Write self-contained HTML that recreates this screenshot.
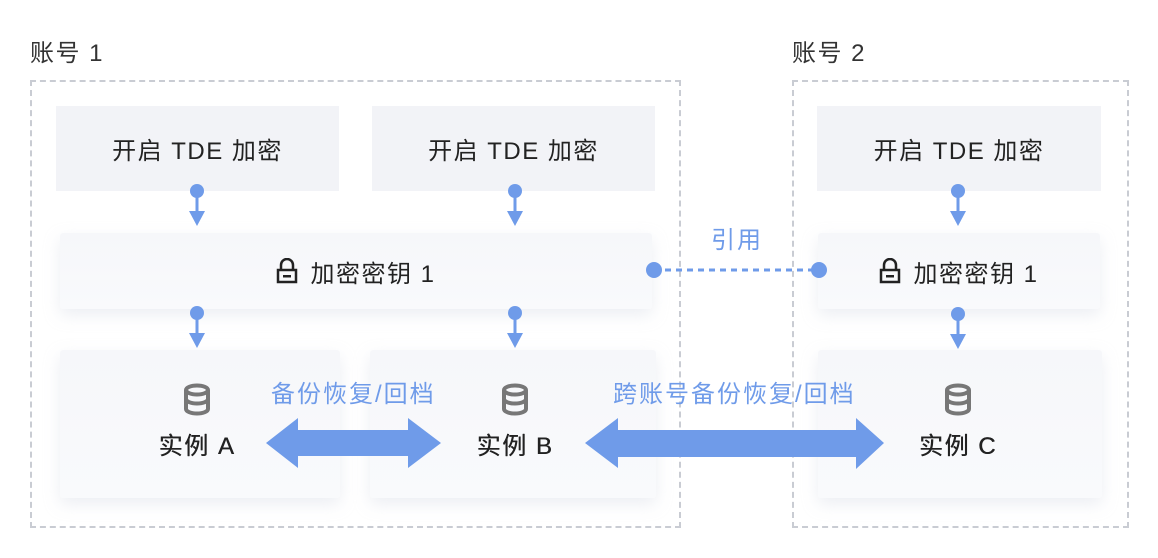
<!DOCTYPE html>
<html><head><meta charset="utf-8"><style>
body{margin:0;width:1158px;height:558px;background:#fff;position:relative;overflow:hidden;font-family:"Liberation Sans","Noto Sans CJK SC",sans-serif;}
.a{position:absolute;letter-spacing:1.5px;white-space:nowrap}
.lbl{font-size:24px;color:#333}
.top{background:#f2f3f7;display:flex;align-items:center;justify-content:center;font-size:24px;color:#222}
.card{background:linear-gradient(180deg,#f6f7fa,#f9fafc);box-shadow:0 6px 16px rgba(200,205,220,0.35);border-radius:3px}
.key{display:flex;align-items:center;justify-content:center;font-size:24px;color:#222}
.inst{font-size:24px;color:#222;text-align:center;text-shadow:0.4px 0 0 #222}
.blue{color:#6f9be9;font-size:24px;letter-spacing:2px}
</style></head><body>
<div class="a lbl" style="left:30px;top:33px">账号 1</div>
<div class="a lbl" style="left:792px;top:33px">账号 2</div>
<div class="a" style="left:30px;top:80px;width:647px;height:444px;border:2px dashed #c9ccd3"></div>
<div class="a" style="left:792px;top:80px;width:333px;height:444px;border:2px dashed #c9ccd3"></div>

<div class="a top" style="left:56px;top:106px;width:283px;height:85px">开启 TDE 加密</div>
<div class="a top" style="left:372px;top:106px;width:283px;height:85px">开启 TDE 加密</div>
<div class="a top" style="left:817px;top:106px;width:284px;height:85px">开启 TDE 加密</div>

<div class="a card key" style="left:60px;top:233px;width:592px;height:76px">
<svg width="22" height="26" viewBox="0 0 22 26" style="margin-right:12px"><path d="M5 12V7a6 6 0 0 1 12 0v5" fill="none" stroke="#222" stroke-width="2.5"/><rect x="2" y="12" width="18" height="12" fill="none" stroke="#222" stroke-width="2.5"/><rect x="7" y="17" width="8" height="2.5" fill="#222"/></svg>加密密钥 1</div>
<div class="a card key" style="left:818px;top:233px;width:282px;height:76px">
<svg width="22" height="26" viewBox="0 0 22 26" style="margin-right:12px"><path d="M5 12V7a6 6 0 0 1 12 0v5" fill="none" stroke="#222" stroke-width="2.5"/><rect x="2" y="12" width="18" height="12" fill="none" stroke="#222" stroke-width="2.5"/><rect x="7" y="17" width="8" height="2.5" fill="#222"/></svg>加密密钥 1</div>

<div class="a card" style="left:60px;top:350px;width:280px;height:148px"></div>
<div class="a card" style="left:370px;top:350px;width:286px;height:148px"></div>
<div class="a card" style="left:818px;top:350px;width:284px;height:148px"></div>

<svg class="a" style="left:0;top:0" width="1158" height="558">
<defs><g id="db"><ellipse cx="0" cy="-9" rx="11" ry="4.5" fill="none" stroke="#777" stroke-width="4"/><path d="M-11 -9V10a11 4.5 0 0 0 22 0V-9M-11 0a11 4.5 0 0 0 22 0" fill="none" stroke="#777" stroke-width="4"/></g>
<g id="cn"><circle cx="0" cy="0" r="7" fill="#6f9be9"/><line x1="0" y1="0" x2="0" y2="22" stroke="#6f9be9" stroke-width="3"/><path d="M-8 20H8L0 35Z" fill="#6f9be9"/></g></defs>
<use href="#db" x="197" y="399"/><use href="#db" x="515" y="399"/><use href="#db" x="958" y="399"/>
<use href="#cn" x="197" y="191"/><use href="#cn" x="515" y="191"/><use href="#cn" x="958" y="191"/>
<use href="#cn" x="197" y="313"/><use href="#cn" x="515" y="313"/><use href="#cn" x="958" y="314"/>
<line x1="654" y1="270" x2="819" y2="270" stroke="#6f9be9" stroke-width="3" stroke-dasharray="6,5"/>
<circle cx="654" cy="270" r="8" fill="#6f9be9"/><circle cx="819" cy="270" r="8" fill="#6f9be9"/>
<path d="M266 443L298 418V430H408V418L441 443L408 468V456H298V468Z" fill="#6f9be9"/>
<path d="M585 443L618 418V430H856V418L884 443L856 469V457H618V468Z" fill="#6f9be9"/>
</svg>
<div class="a blue" style="left:711px;top:220px">引用</div>
<div class="a blue" style="left:271px;top:374px">备份恢复/回档</div>
<div class="a blue" style="left:613px;top:374px">跨账号备份恢复/回档</div>
<div class="a inst" style="left:137px;top:426px;width:120px">实例 A</div>
<div class="a inst" style="left:455px;top:426px;width:120px">实例 B</div>
<div class="a inst" style="left:898px;top:426px;width:120px">实例 C</div>
</body></html>
